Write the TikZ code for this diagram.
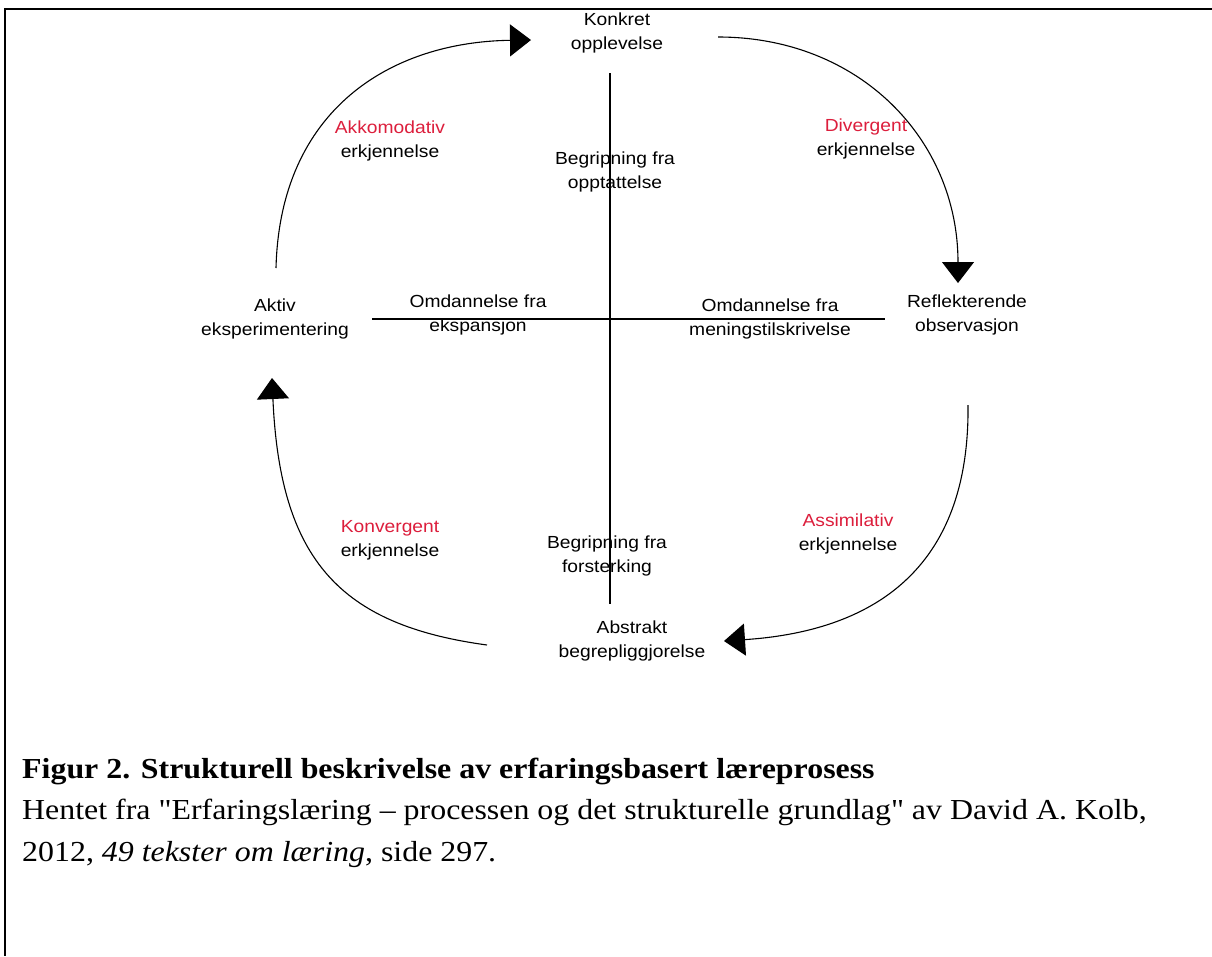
\documentclass[tikz,border=0pt]{standalone}
\usepackage{fontspec}
\setmainfont{Liberation Serif}[FakeStretch=1.1, Ligatures=TeXOff]
\newfontfamily\diafont{Liberation Sans}[FakeStretch=1.1]
\usetikzlibrary{arrows.meta}
\definecolor{kolbred}{RGB}{220,30,60}
\begin{document}
\begin{tikzpicture}[x=1pt,y=-1pt,
  lbl/.style={font=\diafont\fontsize{17.5}{24}\selectfont, align=center, inner sep=0pt},
  captext/.style={font=\fontsize{29}{32}\selectfont, anchor=base west, inner sep=0pt},
  cyc/.style={line width=1.1pt, -{Triangle[length=21pt,width=32pt]}},
  axisline/.style={line width=1.8pt},
  frameline/.style={line width=2.2pt}]
\useasboundingbox (0,0) rectangle (1212,956);
% frame
\coordinate (fr1) at (1212,9);
\coordinate (fr2) at (5,9);
\coordinate (fr3) at (5,956);
\draw[frameline] (fr1) -- (fr2) -- (fr3);
% stage nodes
\node[lbl] (konkret) at (617,33) {Konkret\\opplevelse};
\node[lbl] (aktiv) at (275,319) {Aktiv\\eksperimentering};
\node[lbl] (refl) at (967,315) {Reflekterende\\observasjon};
\node[lbl] (abstr) at (632,641) {Abstrakt\\begrepliggjorelse};
% axis labels
\node[lbl] (omd1) at (478,315) {Omdannelse fra\\ekspansjon};
\node[lbl] (omd2) at (770,319) {Omdannelse fra\\meningstilskrivelse};
\node[lbl] (beg1) at (615,172) {Begripning fra\\opptattelse};
\node[lbl] (beg2) at (607,556) {Begripning fra\\forsterking};
% style labels
\node[lbl] (akk) at (390,141) {\textcolor{kolbred}{Akkomodativ}\\erkjennelse};
\node[lbl] (div) at (866,139) {\textcolor{kolbred}{Divergent}\\erkjennelse};
\node[lbl] (konv) at (390,540) {\textcolor{kolbred}{Konvergent}\\erkjennelse};
\node[lbl] (ass) at (848,534) {\textcolor{kolbred}{Assimilativ}\\erkjennelse};
% axes
\coordinate (vtop) at (610,73);
\coordinate (vbot) at (610,604);
\coordinate (hleft) at (372,319);
\coordinate (hright) at (885,319);
\draw[axisline] (vtop) -- (vbot);
\draw[axisline] (hleft) -- (hright);
% cycle arrows
\coordinate (c1s) at (276,268);
\coordinate (c1e) at (531,40);
\coordinate (c2s) at (718,37);
\coordinate (c2e) at (958,283);
\coordinate (c3s) at (968,405);
\coordinate (c3e) at (724,641);
\coordinate (c4s) at (487,645);
\coordinate (c4e) at (272,378);
\draw[cyc] (c1s) .. controls (280,110) and (390,42) .. (c1e);
\draw[cyc] (c2s) .. controls (860,37) and (958,140) .. (c2e);
\draw[cyc] (c3s) .. controls (970,580) and (860,632) .. (c3e);
\draw[cyc] (c4s) .. controls (340,625) and (280,560) .. (c4e);
% caption
\node[captext, font=\fontsize{29}{32}\selectfont\bfseries] (cap1) at (22,778) {Figur 2. Strukturell beskrivelse av erfaringsbasert læreprosess};
\node[captext] (cap2) at (22,819) {Hentet fra "Erfaringslæring – processen og det strukturelle grundlag" av David A. Kolb,};
\node[captext] (cap3) at (22,861) {2012, \textit{49 tekster om læring}, side 297.};
\end{tikzpicture}
\end{document}
